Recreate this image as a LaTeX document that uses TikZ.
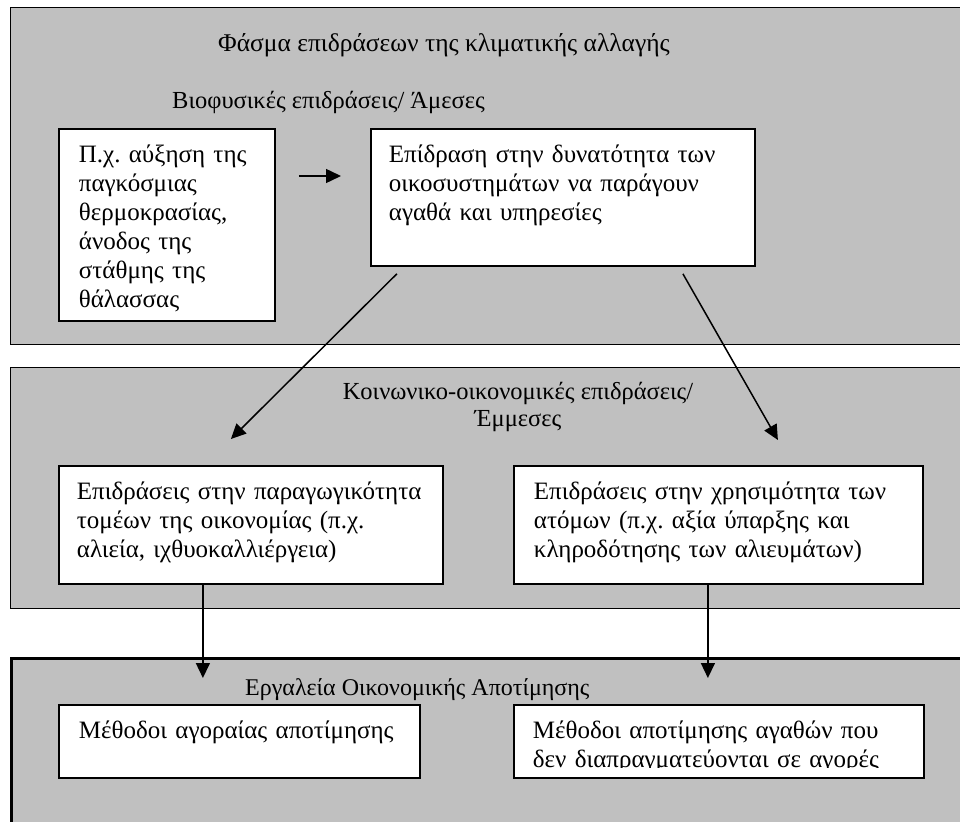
\documentclass[tikz,border=0pt]{standalone}
\usepackage{fontspec}
\setmainfont{Liberation Serif}
\usetikzlibrary{arrows.meta, shadows}
\definecolor{panelgray}{HTML}{C0C0C0}
\frenchspacing

\tikzset{
    panel/.style={draw, fill=panelgray, line width=1.4pt, anchor=north west, inner sep=0pt},
    box/.style={draw, fill=white, line width=1.8pt, anchor=north west, align=left,
        inner xsep=20pt, inner ysep=10pt, text height=24pt,
        drop shadow={shadow xshift=1.5pt, shadow yshift=-1.5pt, fill=black!60, opacity=1}},
    title/.style={anchor=base west, inner sep=0pt},
    arr/.style={-{Triangle[length=15pt, width=14pt]}, line width=1.5pt}
}

\begin{document}
\begin{tikzpicture}[x=1pt, y=-1pt, font=\fontsize{25}{29}\selectfont]
    \useasboundingbox (0,0) rectangle (960,821);

    % Panels
    \node[panel, minimum width=980pt, minimum height=337pt] (p1) at (10,7) {};
    \node[panel, minimum width=980pt, minimum height=241pt] (p2) at (10,367) {};
    \node[panel, line width=3pt, minimum width=980pt, minimum height=220pt] (p3) at (10,657) {};

    % Panel titles
    \node[title, font=\fontsize{25.5}{29}\selectfont] (t1) at (218,52) {Φάσμα επιδράσεων της κλιματικής αλλαγής};
    \node[title, font=\fontsize{24.5}{29}\selectfont] (t1b) at (172,109) {Βιοφυσικές επιδράσεις/ Άμεσες};
    \node[align=center, inner sep=0pt, font=\fontsize{24.5}{27}\selectfont] (t2) at (518,407) {Κοινωνικο-οικονομικές επιδράσεις/\\ Έμμεσες};
    \node[title, font=\fontsize{24}{29}\selectfont] (t3) at (245,695) {Εργαλεία Οικονομικής Αποτίμησης};

    % Boxes
    \node[box, text width=176pt, text depth=148pt] (A) at (58,128)
        {Π.χ. αύξηση της\\ παγκόσμιας\\ θερμοκρασίας,\\ άνοδος της\\ στάθμης της\\ θάλασσας};
    \node[box, inner xsep=18pt, text width=348pt, text depth=93pt] (B) at (370,128)
        {Επίδραση στην δυνατότητα των\\ οικοσυστημάτων να παράγουν\\ αγαθά και υπηρεσίες};
    \node[box, inner xsep=18pt, text width=348pt, text depth=74pt] (C) at (58,465)
        {Επιδράσεις στην παραγωγικότητα\\ τομέων της οικονομίας (π.χ.\\ αλιεία, ιχθυοκαλλιέργεια)};
    \node[box, inner xsep=20pt, text width=369pt, text depth=74pt] (D) at (513,465)
        {Επιδράσεις στην χρησιμότητα των\\ ατόμων (π.χ. αξία ύπαρξης και\\ κληροδότησης των αλιευμάτων)};
    \node[box, text width=321pt, text depth=29pt] (E) at (58,704)
        {Μέθοδοι αγοραίας αποτίμησης};
    \node[box, inner xsep=19pt, text width=372pt, text depth=29pt] (F) at (513,704)
        {Μέθοδοι αποτίμησης αγαθών που\\ δεν διαπραγματεύονται σε αγορές};
    % cut-off second line of F
    \fill[white] ([xshift=2pt, yshift=2.5pt]F.south west) rectangle ([xshift=-2pt, yshift=10.5pt]F.south east);

    % Arrows
    \draw[arr] ([yshift=-48pt]A.north east) -- ([yshift=-48pt]B.north west)
        [shorten <=23pt, shorten >=29pt];
    \draw[arr] ([xshift=-166pt, yshift=-7pt]B.south) -- ([xshift=-20pt, yshift=26pt]C.north);
    \draw[arr] ([xshift=120pt, yshift=-7pt]B.south) -- ([xshift=59.5pt, yshift=25pt]D.north);
    \draw[arr] ([xshift=-48pt]C.south) -- ([xshift=-36.5pt, yshift=26pt]E.north);
    \draw[arr] ([xshift=-10.5pt]D.south) -- ([xshift=-11pt, yshift=26pt]F.north);
\end{tikzpicture}
\end{document}
